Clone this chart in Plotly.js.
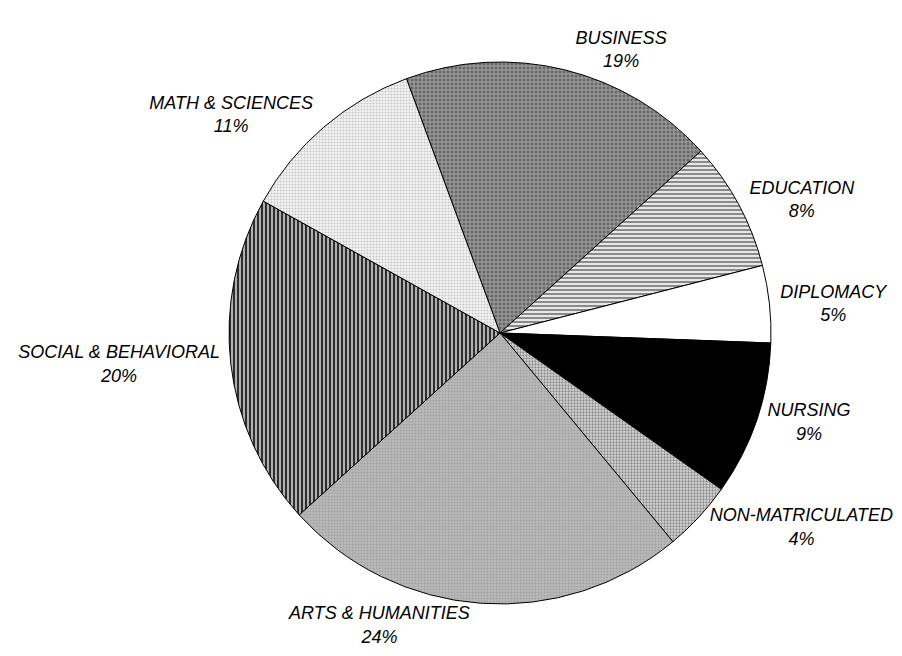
<!DOCTYPE html>
<html>
<head>
<meta charset="utf-8">
<script src="https://cdn.plot.ly/plotly-3.0.1.min.js"></script>
<style>html,body{margin:0;padding:0;background:#fff;}#chart{width:902px;height:656px;}</style>
</head>
<body>
<div id="chart"></div>
<script>
// Categories in clockwise order, starting from the top-left boundary
var categories = ["BUSINESS", "EDUCATION", "DIPLOMACY", "NURSING", "NON-MATRICULATED",
                  "ARTS & HUMANITIES", "SOCIAL & BEHAVIORAL", "MATH & SCIENCES"];
// Shares (labels show rounded percentages)
var shares = [18.9, 7.7, 4.6, 9.2, 4.2, 24.3, 19.8, 11.3];

// Fill styles (grayscale hatching)
var fillColors   = ["#686868", "#ffffff", "#ffffff", "#000000", "#d8d8d8", "#bababa", "#b0b0b0", "#f4f4f4"];
var patternShape = ["+", "-", "", "", ".", ".", "|", "."];
var patternFg    = ["#b4b4b4", "#8a8a8a", "#000000", "#000000", "#8a8a8a", "#a2a2a2", "#202020", "#c6c6c6"];
var patternSize  = [4, 4, 4, 4, 3, 3, 4, 3];
var patternSolid = [0.35, 0.6, 0.3, 0.3, 0.45, 0.35, 0.45, 0.35];

var trace = {
  type: "pie",
  labels: categories,
  values: shares,
  sort: false,
  direction: "clockwise",
  rotation: -20.2,
  domain: {x: [0.2539, 0.8548], y: [0.0793, 0.9055]},
  marker: {
    colors: fillColors,
    line: {color: "#000000", width: 1},
    pattern: {
      shape: patternShape,
      fgcolor: patternFg,
      bgcolor: fillColors,
      size: patternSize,
      solidity: patternSolid,
      fillmode: "replace"
    }
  },
  textposition: "outside",
  texttemplate: "%{label}<br>%{percent:.0%}",
  outsidetextfont: {family: "Liberation Sans, Arial, sans-serif", size: 18, color: "#000000", style: "italic"},
  automargin: false,
  hoverinfo: "label+percent",
  showlegend: false
};

var layout = {
  width: 902,
  height: 656,
  margin: {l: 0, r: 0, t: 0, b: 0},
  paper_bgcolor: "#ffffff",
  plot_bgcolor: "#ffffff",
  showlegend: false,
  font: {family: "Liberation Sans, Arial, sans-serif", size: 18, color: "#000000"}
};

Plotly.newPlot("chart", [trace], layout, {staticPlot: true, displayModeBar: false});
</script>
</body>
</html>
